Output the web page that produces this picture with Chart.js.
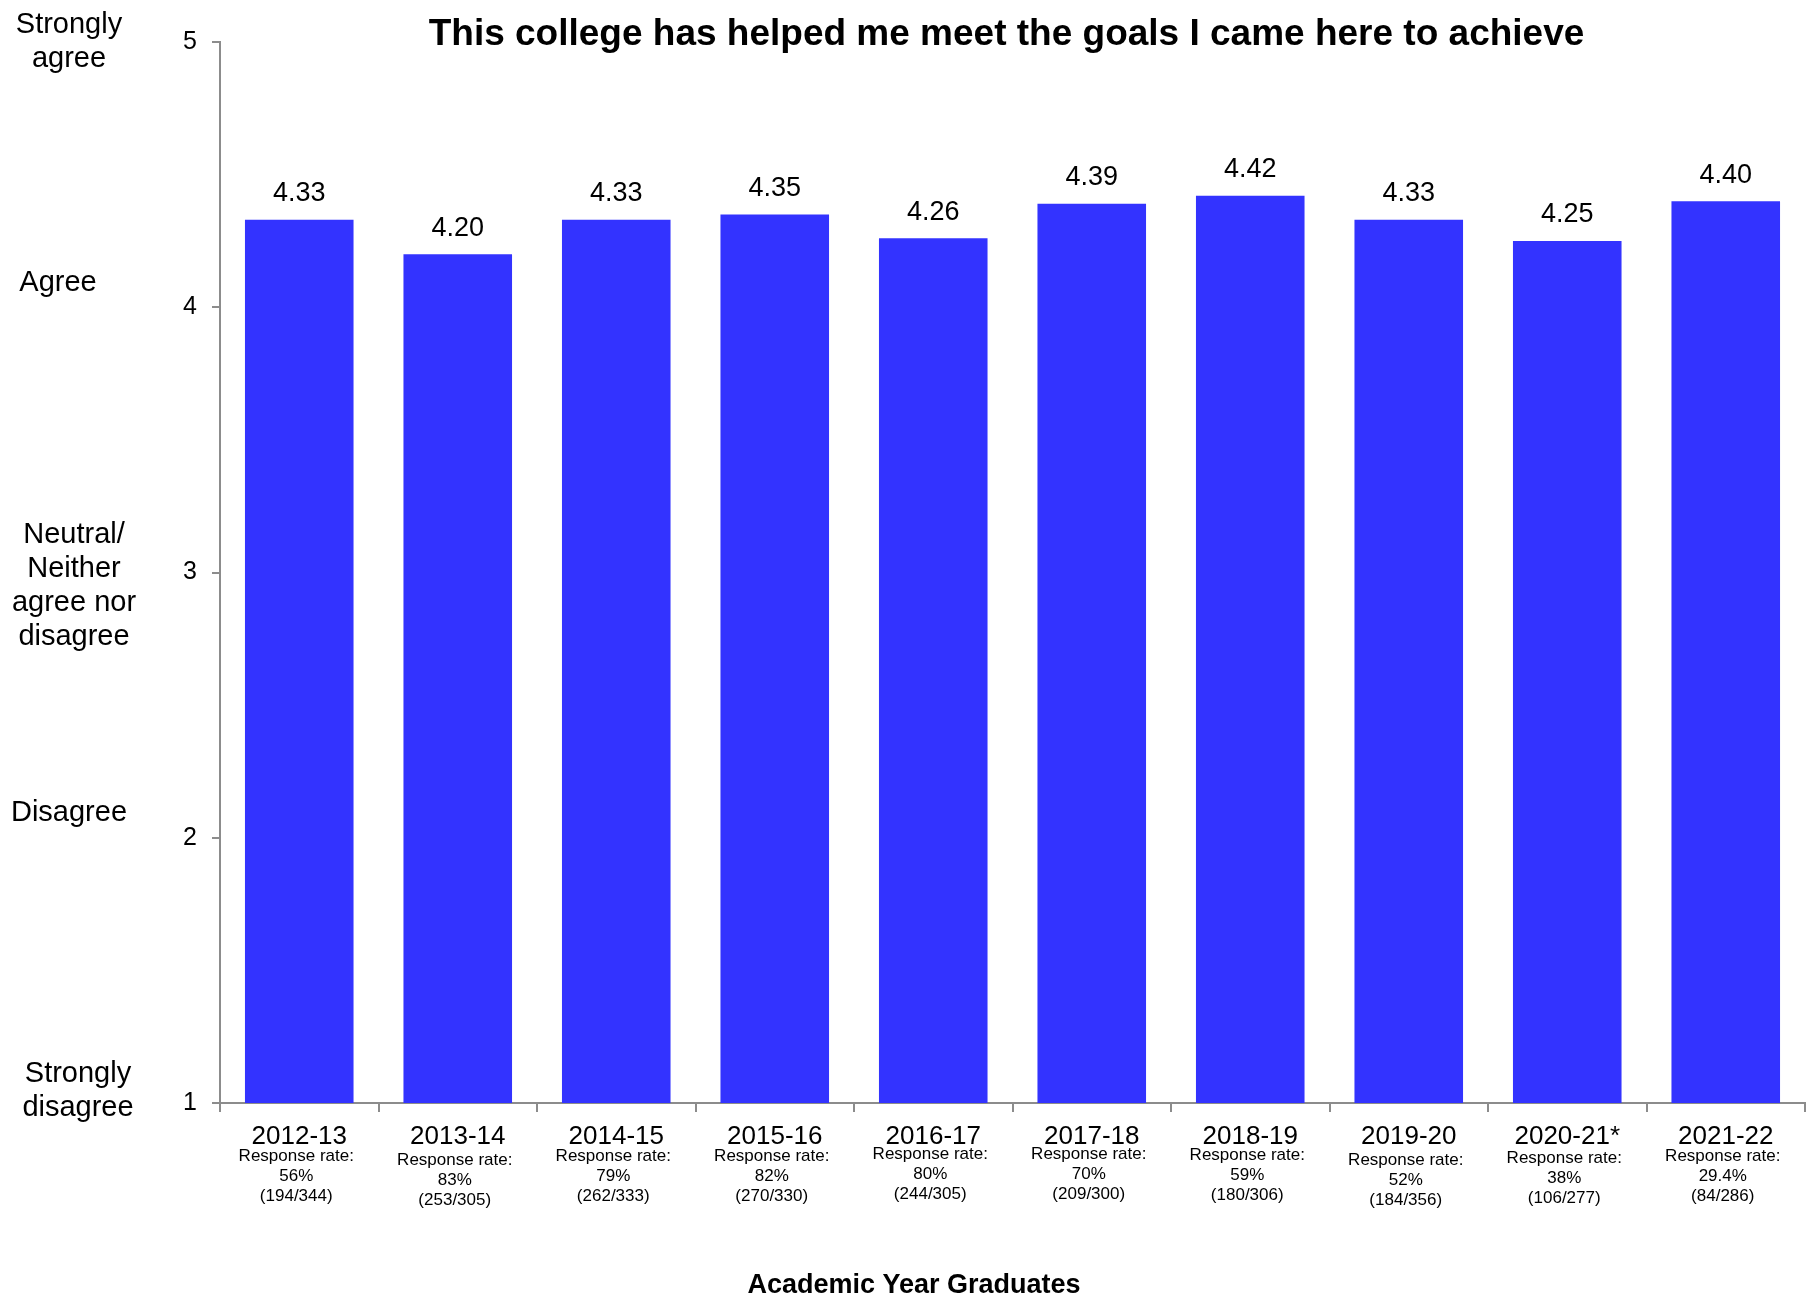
<!DOCTYPE html>
<html>
<head>
<meta charset="utf-8">
<script src="https://cdn.jsdelivr.net/npm/chart.js@4"></script>
<style>
  html, body { margin: 0; padding: 0; background: #fff; }
  #wrap { width: 1807px; height: 1298px; }
</style>
</head>
<body>
<div id="wrap"><canvas id="c" width="1807" height="1298"></canvas></div>
<script>
const TITLE = "This college has helped me meet the goals I came here to achieve";
const X_TITLE = "Academic Year Graduates";
const years = ["2012-13","2013-14","2014-15","2015-16","2016-17","2017-18","2018-19","2019-20","2020-21*","2021-22"];
const scores = [4.33, 4.20, 4.33, 4.35, 4.26, 4.39, 4.42, 4.33, 4.25, 4.40];
const responseRates = ["56%","83%","79%","82%","80%","70%","59%","52%","38%","29.4%"];
const responseCounts = ["(194/344)","(253/305)","(262/333)","(270/330)","(244/305)","(209/300)","(180/306)","(184/356)","(106/277)","(84/286)"];
const yTicks = [1, 2, 3, 4, 5];
const scaleLabels = [["Strongly","agree"],["Agree"],["Neutral/","Neither","agree nor","disagree"],["Disagree"],["Strongly","disagree"]];
const scaleLabelAnchors = [5.0, 4.09, 2.95, 2.095, 1.045];

const BAR = "#3333FF";
const AXIS = "#8c8c8c";
const FONT = "'Liberation Sans', Arial, sans-serif";
const NARROW = "'Liberation Sans Narrow', 'Arial Narrow', 'Liberation Sans', sans-serif";
const rrShift = [0, 4, 0, 0, -2, -2, -1, 4, 2, 0];
const scaleLabelX = [69, 58, 74, 69, 78];

const overlay = {
  id: 'overlay',
  afterDraw(chart) {
    const ctx = chart.ctx;
    const x = chart.scales.x, y = chart.scales.y;
    const area = chart.chartArea;
    ctx.save();
    ctx.fillStyle = '#000';
    ctx.textAlign = 'center';
    ctx.textBaseline = 'middle';
    // title
    ctx.font = "bold 37px " + FONT;
    ctx.fillText(TITLE, (area.left + area.right) / 2 - 6, 35);
    // value labels
    ctx.font = "27px " + FONT;
    const meta = chart.getDatasetMeta(0);
    meta.data.forEach((bar, i) => {
      ctx.fillText(scores[i].toFixed(2), bar.x, bar.y - 26);
    });
    // left scale labels
    ctx.font = "29px " + FONT;
    scaleLabels.forEach((lines, i) => {
      const cy = y.getPixelForValue(scaleLabelAnchors[i]);
      const lh = 34;
      const top = cy - (lines.length - 1) * lh / 2;
      lines.forEach((ln, j) => ctx.fillText(ln, scaleLabelX[i], top + j * lh));
    });
    // x category labels
    years.forEach((yr, i) => {
      const cx = x.getPixelForValue(i);
      const s = rrShift[i];
      ctx.font = "26px " + NARROW;
      ctx.fillText(yr, cx, area.bottom + 34);
      ctx.font = "17px " + NARROW;
      ctx.fillText("Response rate:", cx - 3, area.bottom + 53 + s);
      ctx.fillText(responseRates[i], cx - 3, area.bottom + 73 + s);
      ctx.fillText(responseCounts[i], cx - 3, area.bottom + 93 + s);
    });
    // x axis title
    ctx.font = "bold 27px " + FONT;
    ctx.fillText(X_TITLE, 914, 1286);
    ctx.restore();
  }
};

new Chart(document.getElementById('c'), {
  type: 'bar',
  data: {
    labels: years,
    datasets: [{
      data: scores,
      backgroundColor: BAR,
      borderWidth: 0,
      categoryPercentage: 1,
      barPercentage: 0.685
    }]
  },
  options: {
    responsive: false,
    animation: false,
    layout: { padding: { top: 42, right: 2, left: 0, bottom: 0 } },
    plugins: { legend: { display: false }, tooltip: { enabled: false } },
    scales: {
      x: {
        grid: { offset: true, drawOnChartArea: false, color: AXIS, tickLength: 9, lineWidth: 2 },
        border: { color: AXIS, width: 2 },
        ticks: { display: false },
        afterFit(s) { s.height = 195; }
      },
      y: {
        min: 1, max: 5,
        afterBuildTicks(s) { s.ticks = yTicks.map(v => ({ value: v })); },
        grid: { drawOnChartArea: false, color: AXIS, tickLength: 8, lineWidth: 2 },
        border: { color: AXIS, width: 2 },
        ticks: { color: '#000', font: { size: 25, family: FONT }, padding: 15 },
        afterFit(s) { s.width = 220; }
      }
    }
  },
  plugins: [overlay]
});
</script>
</body>
</html>
